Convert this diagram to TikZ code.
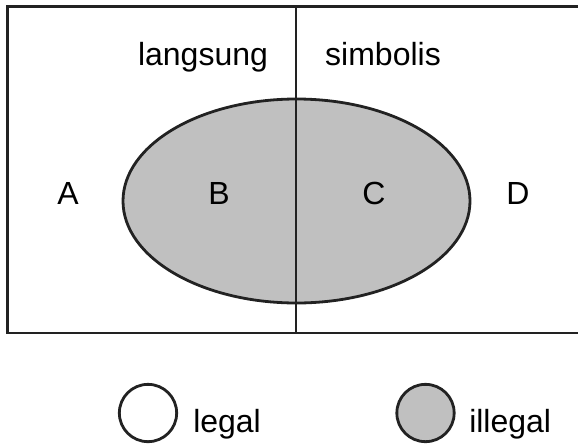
\documentclass[tikz,border=0pt]{standalone}
\usepackage{fontspec}
\setmainfont{Liberation Sans}
\definecolor{ink}{HTML}{222222}
\definecolor{shade}{HTML}{C0C0C0}
\begin{document}
\begin{tikzpicture}[x=0.75pt,y=-0.75pt,
  outline/.style={draw=ink,line width=2.1pt},
  lbl/.style={font=\fontsize{24}{28}\selectfont,inner sep=0pt,anchor=base},
  dot/.style={outline,circle,inner sep=0pt,minimum size=43pt}]
\useasboundingbox (0,0) rectangle (578,447);
\begin{scope}
\clip (0,0) rectangle (578,447);
\draw[outline] (7.5,6.5) rectangle (590,333);
\end{scope}
\draw[outline,fill=shade] (296.5,201) ellipse [x radius=173.5, y radius=102];
\coordinate (top) at (296,6.5);
\coordinate (bot) at (296,333);
\draw[outline] (top) -- (bot);
\node[lbl] (langsung) at (203,65) {langsung};
\node[lbl] (simbolis) at (383,65) {simbolis};
\node[lbl] (A) at (68,204) {A};
\node[lbl] (B) at (219,204) {B};
\node[lbl] (C) at (374,204) {C};
\node[lbl] (D) at (518,204) {D};
\node[dot,fill=white] (legalc) at (148,413) {};
\node[dot,fill=shade] (illegalc) at (425.5,413) {};
\node[lbl,anchor=base west] (legal) at (193,432) {legal};
\node[lbl,anchor=base west] (illegal) at (469,432) {illegal};
\end{tikzpicture}
\end{document}
